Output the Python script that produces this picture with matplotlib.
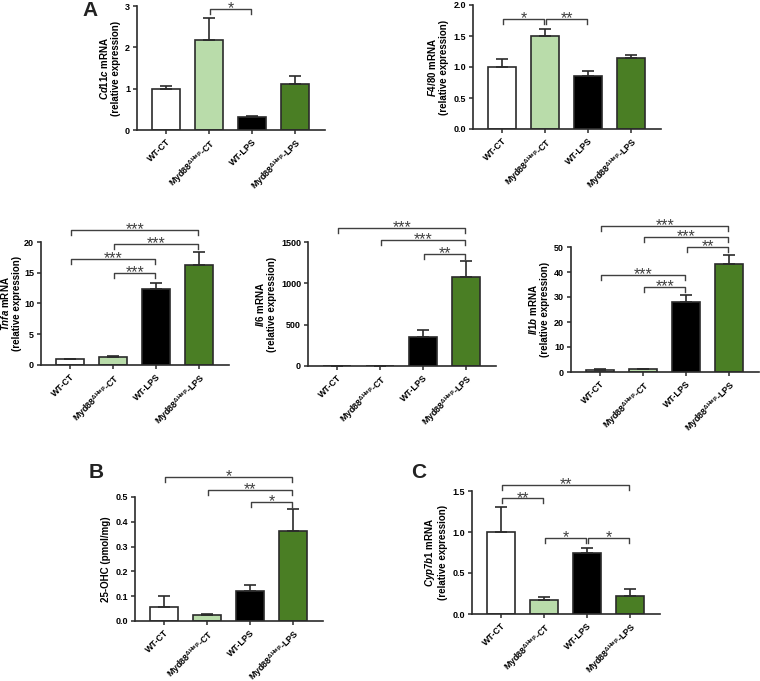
import matplotlib
matplotlib.use("Agg")
import matplotlib.pyplot as plt
import numpy as np

plt.rcParams['font.family'] = ['Liberation Sans', 'DejaVu Sans']
plt.rcParams['font.weight'] = 'bold'
plt.rcParams['mathtext.fontset'] = 'custom'
plt.rcParams['mathtext.rm'] = 'Liberation Sans:bold'
plt.rcParams['mathtext.it'] = 'Liberation Sans:italic:bold'
plt.rcParams['mathtext.bf'] = 'Liberation Sans:bold'
plt.rcParams['mathtext.default'] = 'regular'

groups = ["WT-CT", "Myd88$^{ΔHep}$-CT", "WT-LPS", "Myd88$^{ΔHep}$-LPS"]
bar_colors = ["#ffffff", "#b9dcaa", "#000000", "#4a7e24"]

# Panel A
cd11c_mean = [1.0, 2.18, 0.32, 1.11]
cd11c_sem = [0.07, 0.54, 0.02, 0.20]
cd11c_ticks = [0, 1, 2, 3]
cd11c_sig = [(1, 2, 2.93, "*")]

f480_mean = [1.0, 1.50, 0.85, 1.14]
f480_sem = [0.13, 0.12, 0.08, 0.05]
f480_ticks = [0.0, 0.5, 1.0, 1.5, 2.0]
f480_sig = [(0, 1, 1.78, "*"), (1, 2, 1.78, "**")]

tnfa_mean = [1.0, 1.3, 12.4, 16.3]
tnfa_sem = [0.05, 0.1, 1.0, 2.1]
tnfa_ticks = [0, 5, 10, 15, 20]
tnfa_sig = [(0, 3, 21.9, "***"), (1, 3, 19.7, "***"), (0, 2, 17.3, "***"), (1, 2, 15.0, "***")]

il6_mean = [1.0, 3.0, 351, 1077]
il6_sem = [0.2, 0.5, 84, 193]
il6_ticks = [0, 500, 1000, 1500]
il6_sig = [(0, 3, 1669, "***"), (1, 3, 1524, "***"), (2, 3, 1355, "**")]

il1b_mean = [1.0, 1.2, 28.0, 43.2]
il1b_sem = [0.1, 0.1, 2.8, 3.6]
il1b_ticks = [0, 10, 20, 30, 40, 50]
il1b_sig = [(0, 3, 58.4, "***"), (1, 3, 54.0, "***"), (2, 3, 50.0, "**"),
            (0, 2, 38.8, "***"), (1, 2, 34.0, "***")]

# Panel B
ohc_mean = [0.056, 0.025, 0.12, 0.363]
ohc_sem = [0.044, 0.003, 0.025, 0.087]
ohc_ticks = [0.0, 0.1, 0.2, 0.3, 0.4, 0.5]
ohc_sig = [(0, 3, 0.58, "*"), (1, 3, 0.528, "**"), (2, 3, 0.48, "*")]

# Panel C
cyp_mean = [1.0, 0.17, 0.74, 0.22]
cyp_sem = [0.31, 0.04, 0.06, 0.09]
cyp_ticks = [0.0, 0.5, 1.0, 1.5]
cyp_sig = [(0, 3, 1.57, "**"), (0, 1, 1.41, "**"), (1, 2, 0.93, "*"), (2, 3, 0.93, "*")]

W, H = 760, 681
fig = plt.figure(figsize=(W / 100, H / 100), dpi=100)

AX_COL = "#2b2b2b"
SIG_COL = "#404040"
X0, X1 = -0.68, 3.7
PX_PER_UNIT = 43.0


def panel(left_px, top_px, bottom_px, mean, sem, ticks, sig, ylabel, fmt,
          labelpad=3):
    width_px = (X1 - X0) * PX_PER_UNIT
    ax = fig.add_axes([left_px / W, 1 - bottom_px / H, width_px / W,
                       (bottom_px - top_px) / H])
    ymax = ticks[-1]
    ax.set_xlim(X0, X1)
    ax.set_ylim(0, ymax)
    x = np.arange(len(mean))
    ax.bar(x, mean, width=0.66, color=bar_colors, edgecolor=AX_COL,
           linewidth=1.2, zorder=2)
    ax.errorbar(x, mean, yerr=[np.zeros(len(sem)), sem], fmt="none",
                ecolor=AX_COL, elinewidth=1.2, capsize=4.5, capthick=1.2,
                zorder=3)
    for s in ["top", "right"]:
        ax.spines[s].set_visible(False)
    for s in ["left", "bottom"]:
        ax.spines[s].set_color(AX_COL)
        ax.spines[s].set_linewidth(1.2)
    ax.set_yticks(ticks)
    ax.set_yticklabels([fmt.format(t) for t in ticks], fontsize=6.5,
                       fontweight="bold")
    ax.set_xticks(x)
    ax.set_xticklabels(groups, rotation=45, ha="right",
                       rotation_mode="anchor", fontsize=6.4, fontweight="bold")
    ax.tick_params(axis="both", length=3, width=1.1, color=AX_COL, pad=2)
    ax.set_ylabel(ylabel, fontsize=7, fontweight="bold", labelpad=labelpad,
                  linespacing=1.1)
    px = ymax / (bottom_px - top_px)
    tick = px * 5.0
    for i, j, yv, lab in sig:
        xa, xb = i + 0.02, j - 0.02
        ax.plot([xa, xa, xb, xb], [yv - tick, yv, yv, yv - tick],
                color=SIG_COL, lw=1.0, clip_on=False, zorder=4)
        ax.text((i + j) / 2, yv - px * 4.3, lab, ha="center", va="baseline",
                fontsize=11.5, fontweight="normal", color=SIG_COL,
                clip_on=False)
    return ax


panel(137, 6, 130, cd11c_mean, cd11c_sem, cd11c_ticks, cd11c_sig,
      "$\\mathit{Cd11c}$ mRNA\n(relative expression)", "{:g}")
panel(473, 5, 129, f480_mean, f480_sem, f480_ticks, f480_sig,
      "$\\mathit{F4/80}$ mRNA\n(relative expression)", "{:.1f}")
panel(41, 242, 365, tnfa_mean, tnfa_sem, tnfa_ticks, tnfa_sig,
      "$\\mathit{Tnfa}$ mRNA\n(relative expression)", "{:g}", labelpad=1.5)
panel(308, 242, 366, il6_mean, il6_sem, il6_ticks, il6_sig,
      "$\\mathit{Il6}$ mRNA\n(relative expression)", "{:g}")
panel(571, 247, 372, il1b_mean, il1b_sem, il1b_ticks, il1b_sig,
      "$\\mathit{Il1b}$ mRNA\n(relative expression)", "{:g}")
panel(135, 497, 621, ohc_mean, ohc_sem, ohc_ticks, ohc_sig,
      "25-OHC (pmol/mg)", "{:.1f}")
panel(472, 491, 614, cyp_mean, cyp_sem, cyp_ticks, cyp_sig,
      "$\\mathit{Cyp7b1}$ mRNA\n(relative expression)", "{:.1f}")

for lab, px_, py in [("A", 90, 10), ("B", 96, 472), ("C", 419, 472)]:
    fig.text(px_ / W, 1 - py / H, lab, fontsize=15, fontweight="bold",
             ha="center", va="center", color="#222222")

fig.savefig("out.png", dpi=100, facecolor="white")
